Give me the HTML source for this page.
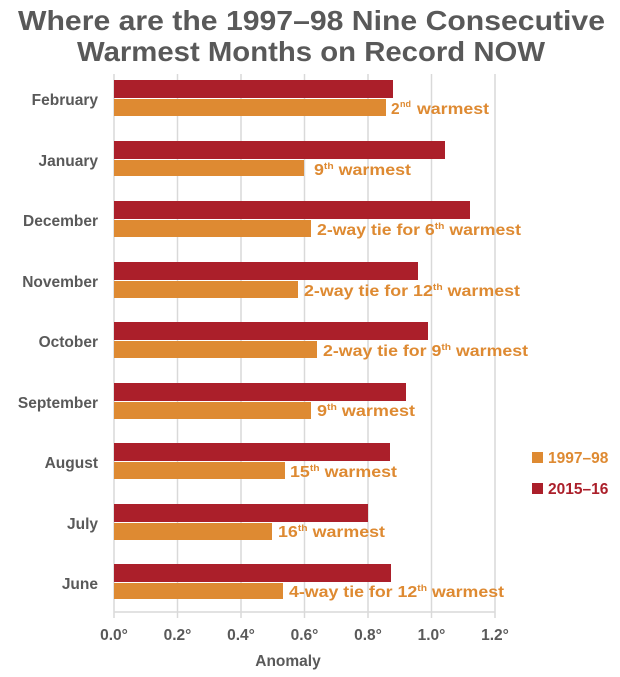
<!DOCTYPE html>
<html><head><meta charset="utf-8"><style>
body{margin:0;width:620px;height:672px;background:#fff;overflow:hidden}
svg text{font-family:"Liberation Sans",sans-serif;font-weight:bold}
</style></head><body>
<svg width="620" height="672" xmlns="http://www.w3.org/2000/svg">
<text x="18" y="30" font-size="28" fill="#595959" textLength="587" lengthAdjust="spacingAndGlyphs">Where are the 1997–98 Nine Consecutive</text>
<text x="77" y="61" font-size="28" fill="#595959" textLength="468" lengthAdjust="spacingAndGlyphs">Warmest Months on Record NOW</text>
<g stroke="#d9d9d9" stroke-width="1.5">
<line x1="114" y1="74" x2="114" y2="618"/><line x1="177.5" y1="74" x2="177.5" y2="618"/>
<line x1="241" y1="74" x2="241" y2="618"/><line x1="304.5" y1="74" x2="304.5" y2="618"/>
<line x1="368" y1="74" x2="368" y2="618"/><line x1="431.5" y1="74" x2="431.5" y2="618"/>
<line x1="495" y1="74" x2="495" y2="618"/>
<line x1="114" y1="612" x2="495" y2="612"/>
</g>
<g font-size="15.5" fill="#595959" text-anchor="end">
<text x="98" y="105">February</text><text x="98" y="166">January</text><text x="98" y="226">December</text>
<text x="98" y="287">November</text><text x="98" y="347">October</text><text x="98" y="408">September</text>
<text x="98" y="468">August</text><text x="98" y="529">July</text><text x="98" y="589">June</text>
</g>
<g fill="#ab1f2a">
<rect x="114" y="80" width="279" height="18"/><rect x="114" y="141" width="331" height="18"/>
<rect x="114" y="201" width="356" height="18"/><rect x="114" y="262" width="304" height="18"/>
<rect x="114" y="322" width="314" height="18"/><rect x="114" y="383" width="292" height="18"/>
<rect x="114" y="443" width="276" height="18"/><rect x="114" y="504" width="254" height="18"/>
<rect x="114" y="564" width="277" height="18"/>
</g>
<g fill="#de8a32">
<rect x="114" y="99" width="272" height="17"/><rect x="114" y="160" width="190" height="16"/>
<rect x="114" y="220" width="197" height="17"/><rect x="114" y="281" width="184" height="17"/>
<rect x="114" y="341" width="203" height="17"/><rect x="114" y="402" width="197" height="17"/>
<rect x="114" y="462" width="171" height="17"/><rect x="114" y="523" width="158" height="17"/>
<rect x="114" y="583" width="169" height="16"/>
</g>
<g font-size="15.5" fill="#de8a32">
<text x="391" y="114">2</text>
<text x="400" y="107" font-size="9">nd</text>
<text x="417" y="114" textLength="72" lengthAdjust="spacingAndGlyphs">warmest</text>
<text x="314" y="175" textLength="97" lengthAdjust="spacingAndGlyphs">9<tspan font-size="9" dy="-6">th</tspan><tspan dy="6"> warmest</tspan></text>
<text x="317" y="235" textLength="204" lengthAdjust="spacingAndGlyphs">2-way tie for 6<tspan font-size="9" dy="-6">th</tspan><tspan dy="6"> warmest</tspan></text>
<text x="304" y="296" textLength="216" lengthAdjust="spacingAndGlyphs">2-way tie for 12<tspan font-size="9" dy="-6">th</tspan><tspan dy="6"> warmest</tspan></text>
<text x="323" y="356" textLength="205" lengthAdjust="spacingAndGlyphs">2-way tie for 9<tspan font-size="9" dy="-6">th</tspan><tspan dy="6"> warmest</tspan></text>
<text x="317" y="416" textLength="98" lengthAdjust="spacingAndGlyphs">9<tspan font-size="9" dy="-6">th</tspan><tspan dy="6"> warmest</tspan></text>
<text x="290" y="477" textLength="107" lengthAdjust="spacingAndGlyphs">15<tspan font-size="9" dy="-6">th</tspan><tspan dy="6"> warmest</tspan></text>
<text x="278" y="537" textLength="107" lengthAdjust="spacingAndGlyphs">16<tspan font-size="9" dy="-6">th</tspan><tspan dy="6"> warmest</tspan></text>
<text x="289" y="597" textLength="215" lengthAdjust="spacingAndGlyphs">4-way tie for 12<tspan font-size="9" dy="-6">th</tspan><tspan dy="6"> warmest</tspan></text>
</g>
<g font-size="15.5" fill="#595959" text-anchor="middle">
<text x="114" y="640">0.0°</text><text x="177.5" y="640">0.2°</text><text x="241" y="640">0.4°</text>
<text x="304.5" y="640">0.6°</text><text x="368" y="640">0.8°</text><text x="431.5" y="640">1.0°</text>
<text x="495" y="640">1.2°</text>
<text x="288" y="666">Anomaly</text>
</g>
<rect x="532" y="452" width="11" height="11" fill="#de8a32"/>
<text x="548" y="463" font-size="15.5" fill="#de8a32">1997–98</text>
<rect x="532" y="483" width="11" height="11" fill="#ab1f2a"/>
<text x="548" y="494" font-size="15.5" fill="#ab1f2a">2015–16</text>
</svg>
</body></html>
